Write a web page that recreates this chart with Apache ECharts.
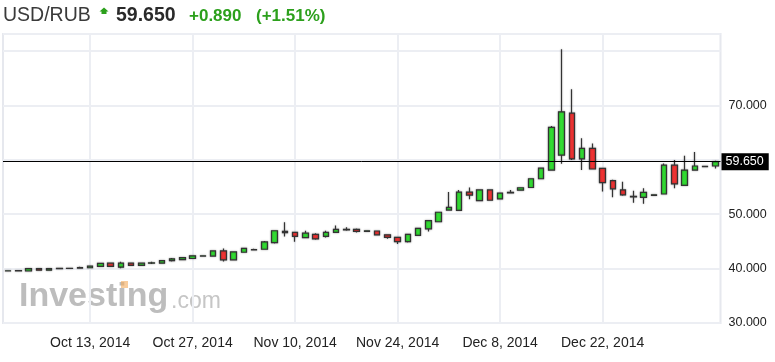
<!DOCTYPE html>
<html><head><meta charset="utf-8">
<script src="https://cdn.jsdelivr.net/npm/echarts@6/dist/echarts.min.js"></script>
<style>html,body{margin:0;padding:0;background:#fff}#c{width:775px;height:362px}</style>
</head><body><div id="c"></div>
<script>
var dates = ["Oct 1, 2014","Oct 2, 2014","Oct 3, 2014","Oct 6, 2014","Oct 7, 2014","Oct 8, 2014","Oct 9, 2014","Oct 10, 2014",
"Oct 13, 2014","Oct 14, 2014","Oct 15, 2014","Oct 16, 2014","Oct 17, 2014","Oct 20, 2014","Oct 21, 2014","Oct 22, 2014","Oct 23, 2014","Oct 24, 2014",
"Oct 27, 2014","Oct 28, 2014","Oct 29, 2014","Oct 30, 2014","Oct 31, 2014","Nov 3, 2014","Nov 4, 2014","Nov 5, 2014","Nov 6, 2014","Nov 7, 2014",
"Nov 10, 2014","Nov 11, 2014","Nov 12, 2014","Nov 13, 2014","Nov 14, 2014","Nov 17, 2014","Nov 18, 2014","Nov 19, 2014","Nov 20, 2014","Nov 21, 2014",
"Nov 24, 2014","Nov 25, 2014","Nov 26, 2014","Nov 27, 2014","Nov 28, 2014","Dec 1, 2014","Dec 2, 2014","Dec 3, 2014","Dec 4, 2014","Dec 5, 2014",
"Dec 8, 2014","Dec 9, 2014","Dec 10, 2014","Dec 11, 2014","Dec 12, 2014","Dec 15, 2014","Dec 16, 2014","Dec 17, 2014","Dec 18, 2014","Dec 19, 2014",
"Dec 22, 2014","Dec 23, 2014","Dec 24, 2014","Dec 25, 2014","Dec 26, 2014","Dec 29, 2014","Dec 30, 2014","Dec 31, 2014","Jan 1, 2015","Jan 2, 2015","Jan 5, 2015","Jan 6, 2015"];
var opens  = [39.55,39.58,39.55,40.00,39.70,40.00,40.02,40.10,40.15,40.40,41.00,40.25,41.00,40.60,41.00,41.00,41.45,41.65,41.85,42.30,42.30,43.25,41.60,43.00,43.45,43.55,44.75,46.60,46.65,45.70,46.30,45.90,46.65,47.10,47.20,46.85,46.90,46.20,45.75,44.95,46.10,47.30,48.60,50.75,50.70,54.05,52.50,54.45,52.80,53.90,54.40,54.90,56.50,58.10,60.85,68.55,60.15,62.10,58.40,56.15,54.45,53.15,53.10,53.45,53.70,59.00,55.30,58.10,58.72,58.85];
var closes = [39.60,39.62,40.00,39.70,40.00,40.05,40.06,40.18,40.45,40.95,40.40,41.00,40.60,41.00,41.05,41.45,41.80,42.00,42.35,42.35,43.25,41.60,43.05,43.70,43.50,44.90,46.95,46.85,45.90,46.50,45.45,46.65,47.20,47.20,46.85,46.95,46.20,45.75,44.95,46.30,47.40,48.80,50.35,51.25,54.05,53.50,54.45,52.55,53.85,54.00,54.85,56.50,58.45,65.95,68.80,60.15,62.10,58.30,55.80,54.65,53.55,53.25,54.00,53.55,59.00,55.55,58.10,58.85,58.76,59.65];
var lows   = [39.45,39.48,39.50,39.60,39.65,39.95,39.98,40.05,40.10,40.35,40.30,40.05,40.50,40.55,40.85,40.95,41.30,41.60,41.80,42.25,42.25,41.30,41.55,42.95,43.35,43.50,44.60,45.90,44.95,45.60,45.30,45.70,46.55,46.95,46.65,46.80,46.15,45.50,44.50,44.80,46.05,46.80,48.55,50.65,50.60,52.75,52.35,52.45,52.70,53.80,54.30,54.80,56.45,58.00,59.25,59.95,58.10,58.20,54.15,53.10,53.40,52.10,51.90,53.40,53.60,54.75,55.20,58.00,58.70,58.40];
var highs  = [39.70,39.72,40.05,40.05,40.05,40.10,40.10,40.35,40.50,41.00,41.05,41.25,41.05,41.05,41.25,41.50,41.95,42.05,42.40,42.40,43.30,43.70,43.20,43.75,43.65,45.05,47.00,48.50,46.70,46.95,46.50,46.95,47.90,47.60,47.35,47.05,46.95,46.25,45.80,46.35,47.45,48.85,50.40,54.05,54.45,54.90,54.50,54.50,53.90,54.45,54.90,56.55,58.50,66.20,80.30,72.95,63.95,63.00,58.50,56.30,55.95,54.30,54.75,53.60,59.30,59.95,60.75,61.40,58.80,59.80];
var tickDates = ["Oct 13, 2014","Oct 27, 2014","Nov 10, 2014","Nov 24, 2014","Dec 8, 2014","Dec 22, 2014"];
var yTicks = [30,40,50,60,70];
var lastPrice = 59.65;
var headerSymbol = "USD/RUB", headerPrice = "59.650", headerChange = "+0.890", headerPct = "(+1.51%)";

var ohlc = dates.map(function(d,i){ return [opens[i], closes[i], lows[i], highs[i]]; });
var showTick = function(idx, val){ return tickDates.indexOf(val) >= 0; };
var FONT = "'Liberation Sans', Arial, sans-serif";
var GREEN = '#2ca01c';

var chart = echarts.init(document.getElementById('c'), null, {renderer:'canvas'});
chart.setOption({
  animation: false,
  backgroundColor: '#fff',
  textStyle: {fontFamily: FONT},
  grid: {left: 3, right: 54.5, top: 34, bottom: 39, show: true, borderColor: '#e6e8ee', borderWidth: 2, backgroundColor: 'transparent'},
  xAxis: {
    type: 'category', data: dates, boundaryGap: true,
    axisLine: {show: false}, axisTick: {show: false},
    axisLabel: {interval: showTick, color: '#222', fontSize: 14, margin: 13, fontFamily: FONT},
    splitLine: {show: true, interval: showTick, alignWithLabel: true, lineStyle: {color: '#eceef3', width: 2}}
  },
  yAxis: {
    type: 'value', position: 'right', min: 30, max: 83.1, interval: 10, scale: false,
    axisLine: {show: false}, axisTick: {show: false},
    axisLabel: {color: '#222', fontSize: 12.5, margin: 8, fontFamily: FONT,
      formatter: function(v){ return yTicks.indexOf(Math.round(v*1000)/1000) >= 0 && v !== 60 ? v.toFixed(3) : ''; }},
    splitLine: {show: true, lineStyle: {color: '#eceef3', width: 2}}
  },
  series: [{
    type: 'candlestick', data: ohlc, barWidth: 6,
    itemStyle: {color: '#33dd33', color0: '#f03434', borderColor: '#333', borderColor0: '#333', borderWidth: 1.2,
      shadowBlur: 2, shadowColor: 'rgba(0,0,0,0.35)'},
    markLine: {
      silent: true, symbol: ['none','none'],
      lineStyle: {color: '#000', width: 1, type: 'solid'},
      label: {show: true, position: 'end', formatter: lastPrice.toFixed(3), backgroundColor: '#000', color: '#fff',
        fontSize: 12.5, fontFamily: FONT, padding: [2,5,2,4], lineHeight: 13, distance: 1},
      data: [{yAxis: lastPrice}]
    }
  }],
  graphic: [
    {type: 'text', left: 3, top: 6, style: {text: headerSymbol, font: '19.5px ' + FONT, fill: '#3a3a3a'}},
    {type: 'polygon', shape: {points: [[104,7.5],[108.5,11.5],[106.5,11.5],[106.5,14],[101.5,14],[101.5,11.5],[99.5,11.5]]}, style: {fill: GREEN}},
    {type: 'text', left: 116, top: 6, style: {text: headerPrice, font: 'bold 19.5px ' + FONT, fill: '#2a2a2a'}},
    {type: 'text', left: 189, top: 8, style: {text: headerChange, font: 'bold 17px ' + FONT, fill: GREEN}},
    {type: 'text', left: 256, top: 8, style: {text: headerPct, font: 'bold 17px ' + FONT, fill: GREEN}},
    {type: 'text', left: 19, top: 280, z: 0, style: {text: 'Investing', font: 'bold 34px ' + FONT, fill: '#bdbdbd'}},
    {type: 'rect', shape: {x: 121, y: 281, width: 7, height: 7}, z: 1, style: {fill: 'rgba(244,170,90,0.6)'}},
    {type: 'text', left: 171, top: 290, z: 0, style: {text: '.com', font: '23px ' + FONT, fill: '#c6c6c6'}}
  ]
});
</script></body></html>
